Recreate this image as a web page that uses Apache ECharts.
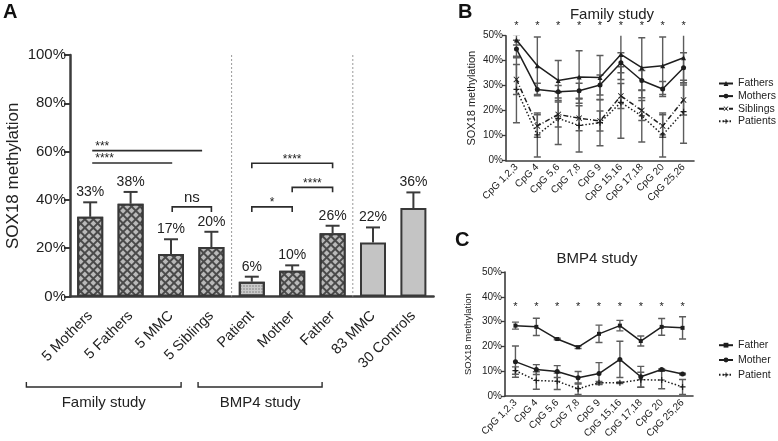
<!DOCTYPE html>
<html><head><meta charset="utf-8">
<script src="https://cdn.jsdelivr.net/npm/echarts@6/dist/echarts.min.js"></script>
<style>html,body{margin:0;padding:0;background:#fff}#c{width:778px;height:441px}</style>
</head><body><div id="c"></div>
<script>
// ---------- Panel A data ----------
const aCategories = ['5 Mothers','5 Fathers','5 MMC','5 Siblings','Patient','Mother','Father','83 MMC','30 Controls'];
const aValues = [33.0, 38.4, 17.6, 20.5, 6.1, 10.7, 26.2, 22.4, 36.6];
const aErrTop = [39.0, 43.3, 23.7, 26.8, 8.2, 12.9, 29.3, 28.6, 43.1];
const aLabels = ['33%','38%','17%','20%','6%','10%','26%','22%','36%'];
const aTickValues = [0, 20, 40, 60, 80, 100];
const sigText = ['***','****','ns','****','****','*'];
const sigStart = [0.05, 0.05, 2.03, 4.0, 5.0, 4.0];
const sigEnd = [2.77, 2.03, 3.0, 6.0, 6.0, 5.0];
const sigLevel = [60.4, 55.3, 37.1, 55.2, 45.2, 37.1];
const sigBracket = [false, false, true, true, true, true];
const groupSeparators = [3.5, 6.5];
const groupNames = ['Family study', 'BMP4 study'];
const groupStart = [-1.58, 2.67];
const groupEnd = [2.25, 5.74];

// ---------- Panel B data ----------
const cpgCategories = ['CpG 1,2,3','CpG 4','CpG 5,6','CpG 7,8','CpG 9','CpG 15,16','CpG 17,18','CpG 20','CpG 25,26'];
const famFathers = [48.3, 38.0, 32.1, 33.5, 33.3, 42.5, 37.2, 38.0, 41.2];
const famFathersErr = [2.0, 11.5, 8.0, 10.5, 8.8, 10.0, 12.0, 11.5, 10.0];
const famMothers = [44.7, 28.5, 27.6, 28.0, 30.3, 39.2, 32.1, 28.7, 37.2];
const famMothersErr = [3.5, 2.5, 2.5, 3.0, 4.0, 4.0, 4.0, 3.0, 6.0];
const famSiblings = [32.5, 13.9, 18.5, 17.0, 15.9, 25.9, 20.1, 13.9, 24.3];
const famSiblingsErr = [6.0, 4.5, 5.0, 5.0, 4.0, 5.0, 4.0, 4.5, 6.0];
const famPatients = [28.5, 10.3, 16.9, 14.1, 15.2, 23.3, 17.9, 10.3, 19.6];
const famPatientsErr = [13.3, 8.8, 10.4, 10.6, 9.2, 14.3, 10.4, 8.8, 12.6];
const famStarLevel = 54;

// ---------- Panel C data ----------
const bmpFather = [28.4, 27.9, 23.0, 19.7, 25.1, 28.4, 22.2, 27.9, 27.5];
const bmpFatherErr = [1.4, 3.5, 0.3, 0.5, 3.5, 2.1, 2.0, 3.4, 4.5];
const bmpMother = [13.9, 10.7, 9.9, 7.4, 9.1, 14.8, 7.8, 10.7, 8.9];
const bmpMotherErr = [6.3, 2.0, 2.4, 2.5, 4.4, 7.3, 4.2, 0.3, 0.3];
const bmpPatient = [10.3, 6.3, 6.0, 3.0, 5.4, 5.4, 6.6, 6.5, 3.7];
const bmpPatientErr = [1.5, 3.5, 3.3, 2.3, 0.5, 0.3, 3.0, 3.5, 3.0];
const bmpStarLevel = 36;
const smallTickValues = [0, 10, 20, 30, 40, 50];

// ---------- styles ----------
const FONT = "'Liberation Sans', Arial, Helvetica, sans-serif";
const INK = '#222';
const AXIS = '#3c3c3c';
const barKind = ['hatch','hatch','hatch','hatch','dots','hatch','hatch','plain','plain'];
const hatchDecal = {symbol:'rect', symbolSize:1, color:'#b9b9b9', dashArrayX:[4,2], dashArrayY:[4,2], rotation:Math.PI/4};
const dotDecal = {symbol:'circle', symbolSize:0.7, color:'#707070', dashArrayX:[2,1], dashArrayY:[2,1]};
function barStyle(kind){
  const base = {borderColor:'#383838', borderWidth:2};
  if (kind === 'hatch') return Object.assign(base, {color:'#4a4a4a', decal:hatchDecal});
  if (kind === 'dots') return Object.assign(base, {color:'#c9c9c9', decal:dotDecal});
  return Object.assign(base, {color:'#c4c4c4'});
}
const symX = 'path://M1,0L5,4L9,0L10,1L6,5L10,9L9,10L5,6L1,10L0,9L4,5L0,1Z';
const symPlus = 'path://M4,0H6V4H10V6H6V10H4V6H0V4H4Z';

function errSeries(xi, yi, vals, errs, hw, clip){
  return {
    type:'custom', xAxisIndex:xi, yAxisIndex:yi, clip:clip, z:2, silent:true,
    data: vals.map((v,i)=>[i, v, errs[i]]),
    renderItem(params, api){
      const i = api.value(0), v = api.value(1), e = api.value(2);
      const t = api.coord([i, v+e]), b = api.coord([i, v-e]);
      const st = {stroke:'#5c5c5c', lineWidth:1.4};
      return {type:'group', children:[
        {type:'line', shape:{x1:t[0],y1:t[1],x2:b[0],y2:b[1]}, style:st},
        {type:'line', shape:{x1:t[0]-hw,y1:t[1],x2:t[0]+hw,y2:t[1]}, style:st},
        {type:'line', shape:{x1:b[0]-hw,y1:b[1],x2:b[0]+hw,y2:b[1]}, style:st}
      ]};
    }
  };
}
function starSeries(xi, yi, level){
  return {
    type:'custom', xAxisIndex:xi, yAxisIndex:yi, clip:false, silent:true,
    data: cpgCategories.map((c,i)=>[i, level]),
    renderItem(params, api){
      const p = api.coord([api.value(0), api.value(1)]);
      return {type:'text', x:p[0], y:p[1], style:{text:'*', textAlign:'center', textVerticalAlign:'middle', font:'11px '+FONT, fill:INK}};
    }
  };
}
function lineSeries(name, xi, yi, vals, symbol, size, dash){
  return {
    name, type:'line', xAxisIndex:xi, yAxisIndex:yi, data:vals, symbol, symbolSize:size, z:3,
    lineStyle:{color:'#1e1e1e', width:1.5, type:dash},
    itemStyle:{color:'#1e1e1e'}, emphasis:{disabled:true}
  };
}
function smallX(gi){
  return {type:'category', gridIndex:gi, data:cpgCategories, boundaryGap:true,
    axisLine:{lineStyle:{color:AXIS, width:1.6}},
    axisTick:{alignWithLabel:true, length:4, lineStyle:{color:AXIS, width:1.3}},
    axisLabel:{rotate:45, fontSize:10, color:INK, margin:5, fontFamily:FONT, interval:0}};
}
function smallY(gi, nameSize, gap){
  return {type:'value', gridIndex:gi, min:smallTickValues[0], max:smallTickValues[smallTickValues.length-1], interval:10,
    name:'SOX18 methylation', nameLocation:'middle', nameGap:gap, nameRotate:90,
    nameTextStyle:{fontSize:nameSize, color:INK, fontFamily:FONT},
    axisLine:{show:true, lineStyle:{color:AXIS, width:1.6}},
    axisTick:{show:true, length:4, lineStyle:{color:AXIS, width:1.3}},
    axisLabel:{formatter:'{value}%', fontSize:10, color:INK, margin:3, fontFamily:FONT},
    splitLine:{show:false}};
}
const legendCommon = {orient:'vertical', padding:0, itemWidth:14, itemHeight:6, left:718,
  textStyle:{fontSize:10.5, color:INK}, selectedMode:false};

const option = {
  animation:false,
  textStyle:{fontFamily:FONT},
  grid:[
    {left:70, top:55, width:363.6, height:241.5},
    {left:506, top:35.7, width:188, height:125},
    {left:505, top:272, width:188, height:125.5}
  ],
  xAxis:[
    {type:'category', gridIndex:0, data:aCategories, boundaryGap:true,
      axisLine:{lineStyle:{color:AXIS, width:2.5}},
      axisTick:{alignWithLabel:true, length:7, lineStyle:{color:AXIS, width:2}},
      axisLabel:{rotate:45, fontSize:14.5, color:INK, margin:17, interval:0}},
    smallX(1), smallX(2)
  ],
  yAxis:[
    {type:'value', gridIndex:0, min:aTickValues[0], max:aTickValues[aTickValues.length-1], interval:20,
      name:'SOX18 methylation', nameLocation:'middle', nameGap:48, nameRotate:90,
      nameTextStyle:{fontSize:17, color:INK},
      axisLine:{show:true, lineStyle:{color:AXIS, width:2.5}},
      axisTick:{show:true, length:6, lineStyle:{color:AXIS, width:2}},
      axisLabel:{formatter:'{value}%', fontSize:15, color:INK, margin:4},
      splitLine:{show:false}},
    smallY(1, 11, 29), smallY(2, 9.5, 32)
  ],
  legend:[
    Object.assign({data:['Fathers','Mothers','Siblings','Patients'], top:78, itemGap:1.6}, legendCommon),
    Object.assign({data:['Father','Mother','Patient'], top:339.7, itemGap:3.8}, legendCommon)
  ],
  graphic:[
    {type:'text', x:3, y:2, style:{text:'A', font:'bold 20px '+FONT, fill:'#111'}},
    {type:'text', x:458, y:2, style:{text:'B', font:'bold 20px '+FONT, fill:'#111'}},
    {type:'text', x:455, y:230, style:{text:'C', font:'bold 20px '+FONT, fill:'#111'}},
    {type:'text', x:612, y:15, style:{text:'Family study', textAlign:'center', textVerticalAlign:'middle', font:'15px '+FONT, fill:INK}},
    {type:'text', x:597, y:259, style:{text:'BMP4 study', textAlign:'center', textVerticalAlign:'middle', font:'15px '+FONT, fill:INK}}
  ],
  series:[
    {type:'custom', xAxisIndex:0, yAxisIndex:0, clip:false, silent:true, z:1,
      data: groupSeparators.map(()=>[0, 100]),
      renderItem(params, api){
        const bw = api.size([1,0])[0]; const x0 = api.coord([0,0])[0];
        const x = x0 + groupSeparators[params.dataIndex]*bw;
        const yb = api.coord([0,0])[1], yt = api.coord([0, api.value(1)])[1];
        return {type:'line', shape:{x1:x,y1:yt,x2:x,y2:yb}, style:{stroke:'#9a9a9a', lineWidth:1, lineDash:[2,2]}};
      }},
    {type:'bar', xAxisIndex:0, yAxisIndex:0, barWidth:26, silent:true,
      data: aValues.map((v,i)=>({value:v, itemStyle:barStyle(barKind[i])}))},
    {type:'custom', xAxisIndex:0, yAxisIndex:0, clip:false, silent:true, z:3,
      data: aValues.map((v,i)=>[i, v, aErrTop[i]]),
      renderItem(params, api){
        const i = api.value(0);
        const p0 = api.coord([i, api.value(1)]), p1 = api.coord([i, api.value(2)]);
        const st = {stroke:'#3a3a3a', lineWidth:2};
        return {type:'group', children:[
          {type:'line', shape:{x1:p0[0],y1:p0[1],x2:p1[0],y2:p1[1]}, style:st},
          {type:'line', shape:{x1:p1[0]-7,y1:p1[1],x2:p1[0]+7,y2:p1[1]}, style:st},
          {type:'text', x:p1[0], y:p1[1]-3, style:{text:aLabels[params.dataIndex], textAlign:'center', textVerticalAlign:'bottom', font:'14px '+FONT, fill:INK}}
        ]};
      }},
    {type:'custom', xAxisIndex:0, yAxisIndex:0, clip:false, silent:true, z:3,
      data: sigLevel.map(l=>[0, l]),
      renderItem(params, api){
        const i = params.dataIndex;
        const bw = api.size([1,0])[0]; const x0 = api.coord([0,0])[0];
        const xa = x0 + sigStart[i]*bw, xb = x0 + sigEnd[i]*bw;
        const y = api.coord([0, api.value(1)])[1];
        const pts = sigBracket[i] ? [[xa,y+5],[xa,y],[xb,y],[xb,y+5]] : [[xa,y],[xb,y]];
        const isStar = sigText[i].indexOf('*') >= 0;
        const txt = sigBracket[i]
          ? {type:'text', x:(xa+xb)/2, y: isStar ? y+2 : y-2, style:{text:sigText[i], textAlign:'center', textVerticalAlign:'bottom', font:(isStar?'12px ':'15px ')+FONT, fill:INK}}
          : {type:'text', x:xa+3, y:y+2, style:{text:sigText[i], textAlign:'left', textVerticalAlign:'bottom', font:'12px '+FONT, fill:INK}};
        return {type:'group', children:[
          {type:'polyline', shape:{points:pts}, style:{stroke:'#2c2c2c', lineWidth:1.6, fill:null}}, txt]};
      }},
    {type:'custom', xAxisIndex:0, yAxisIndex:0, clip:false, silent:true,
      data: groupNames.map(()=>[0, 0]),
      renderItem(params, api){
        const i = params.dataIndex;
        const bw = api.size([1,0])[0]; const x0 = api.coord([0,0])[0];
        const xa = x0 + groupStart[i]*bw, xb = x0 + groupEnd[i]*bw;
        const y = api.coord([0, api.value(1)])[1] + 90.5;
        return {type:'group', children:[
          {type:'polyline', shape:{points:[[xa,y-5],[xa,y],[xb,y],[xb,y-5]]}, style:{stroke:'#2c2c2c', lineWidth:1.4, fill:null}},
          {type:'text', x:(xa+xb)/2, y:y+16, style:{text:groupNames[i], textAlign:'center', textVerticalAlign:'middle', font:'15px '+FONT, fill:INK}}
        ]};
      }},
    errSeries(1, 1, famFathers, famFathersErr, 3.5, true),
    errSeries(1, 1, famMothers, famMothersErr, 3.5, true),
    errSeries(1, 1, famSiblings, famSiblingsErr, 3.5, true),
    errSeries(1, 1, famPatients, famPatientsErr, 3.5, true),
    lineSeries('Fathers', 1, 1, famFathers, 'triangle', 5, 'solid'),
    lineSeries('Mothers', 1, 1, famMothers, 'circle', 5, 'solid'),
    lineSeries('Siblings', 1, 1, famSiblings, symX, 6, [5,2,1,2]),
    lineSeries('Patients', 1, 1, famPatients, symPlus, 6, [1.5,2]),
    starSeries(1, 1, famStarLevel),
    errSeries(2, 2, bmpFather, bmpFatherErr, 3.5, true),
    errSeries(2, 2, bmpMother, bmpMotherErr, 3.5, true),
    errSeries(2, 2, bmpPatient, bmpPatientErr, 3.5, true),
    lineSeries('Father', 2, 2, bmpFather, 'rect', 4, 'solid'),
    lineSeries('Mother', 2, 2, bmpMother, 'circle', 5, 'solid'),
    lineSeries('Patient', 2, 2, bmpPatient, symPlus, 6, [1.5,2]),
    starSeries(2, 2, bmpStarLevel)
  ]
};
const chart = echarts.init(document.getElementById('c'));
chart.setOption(option);
</script>
</body></html>
